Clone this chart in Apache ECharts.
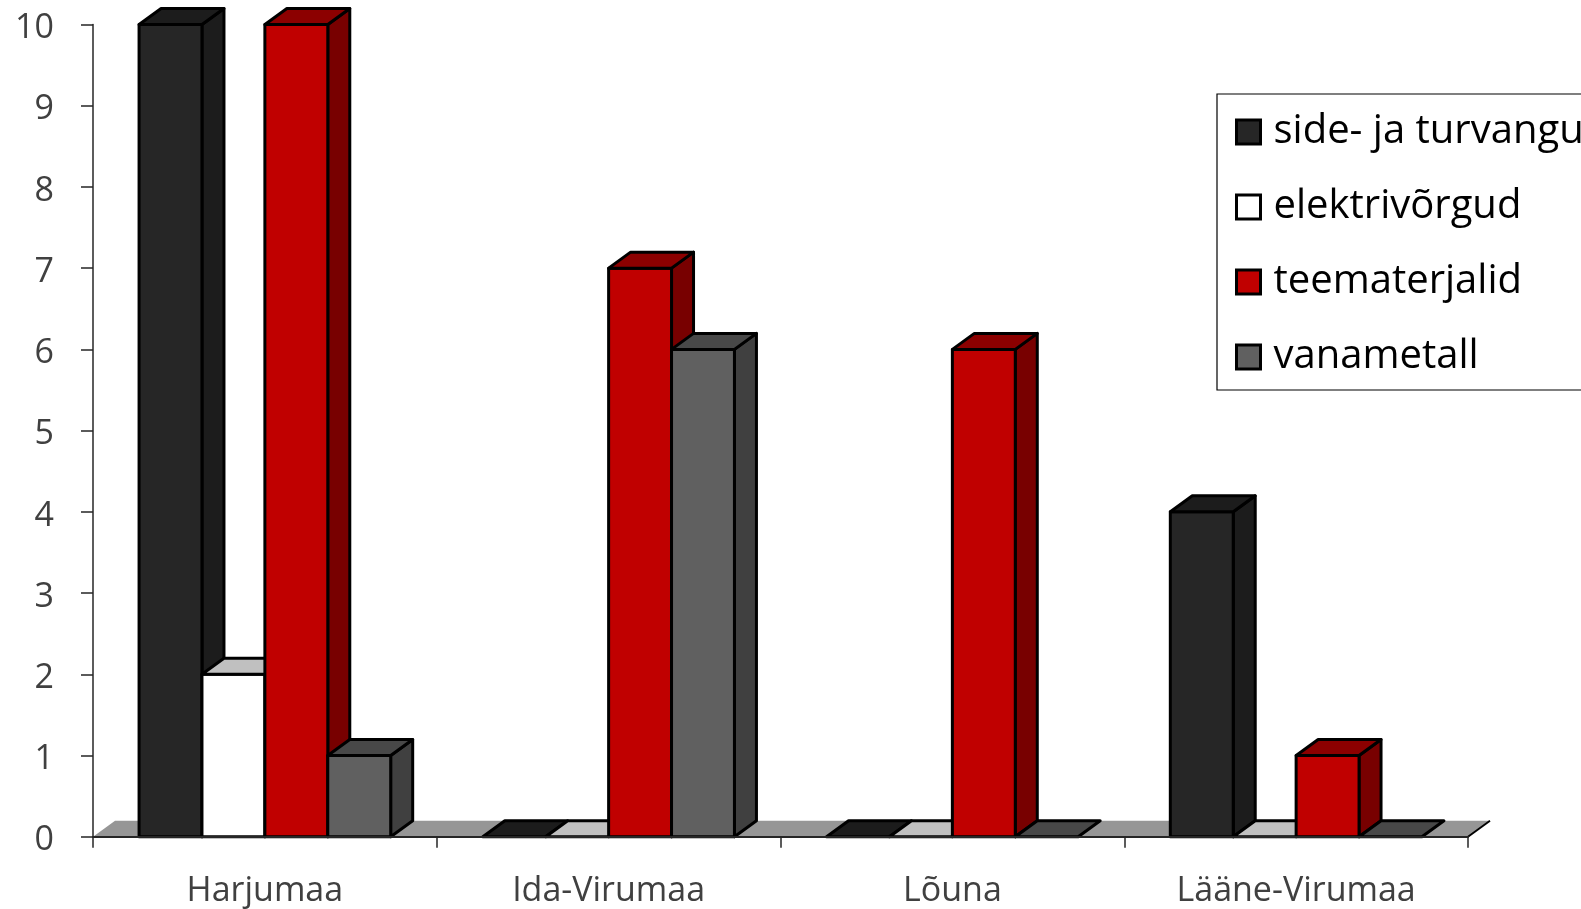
<!DOCTYPE html>
<html>
<head>
<meta charset="utf-8">
<script src="https://cdn.jsdelivr.net/npm/echarts@6/dist/echarts.min.js"></script>
<style>
  html, body { margin: 0; padding: 0; background: #fff; }
  #chart { width: 1581px; height: 909px; }
</style>
</head>
<body>
<div id="chart"></div>
<script>
const categories = ['Harjumaa', 'Ida-Virumaa', 'Lõuna', 'Lääne-Virumaa'];
const seriesNames = ['side- ja turvanguseadmed', 'elektrivõrgud', 'teematerjalid', 'vanametall'];
const sideTurvangu = [10, 0, 0, 4];
const elektrivorgud = [2, 0, 0, 0];
const teematerjalid = [10, 7, 6, 1];
const vanametall = [1, 6, 0, 0];
const yMin = 0, yMax = 10, yStep = 1;

// front / top / side face colours per series
const faces = [
    {front: '#262626', top: '#1c1c1c', side: '#1c1c1c'},
    {front: '#ffffff', top: '#c0c0c0', side: '#c0c0c0'},
    {front: '#c00000', top: '#8c0000', side: '#780000'},
    {front: '#606060', top: '#484848', side: '#404040'}
];

const DX = 22, DY = 16;     // depth offset of the fake 3d
const GROUP = 0.732;        // share of a category used by the bars

function bar3d(k) {
    return function (params, api) {
        const i = api.value(0), v = api.value(1);
        const base = api.coord([i, 0]);
        const top = api.coord([i, v]);
        const band = api.size([1, 0])[0];
        const w = band * GROUP / 4;
        const x0 = base[0] - band * GROUP / 2 + k * w;
        const x1 = x0 + w;
        const yb = base[1], yt = top[1];
        const c = faces[k];
        const st = {stroke: '#000', lineWidth: 3, lineJoin: 'round'};
        const children = [];
        if (v > 0) {
            children.push({type: 'polygon', shape: {points: [[x1, yt], [x1 + DX, yt - DY], [x1 + DX, yb - DY], [x1, yb]]},
                style: Object.assign({}, st, {fill: c.side})});
            children.push({type: 'rect', shape: {x: x0, y: yt, width: w, height: yb - yt},
                style: Object.assign({}, st, {fill: c.front})});
        }
        children.push({type: 'polygon', shape: {points: [[x0, yt], [x0 + DX, yt - DY], [x1 + DX, yt - DY], [x1, yt]]},
            style: Object.assign({}, st, {fill: c.top})});
        return {type: 'group', children: children};
    };
}

const allValues = [sideTurvangu, elektrivorgud, teematerjalid, vanametall];

const series = [{
    type: 'custom',
    name: 'floor',
    silent: true,
    z: 1,
    data: [[0, 0]],
    renderItem: function (params, api) {
        const cs = params.coordSys;
        const L = cs.x, R = cs.x + cs.width, y = cs.y + cs.height;
        return {type: 'group', children: [
            {type: 'polygon', shape: {points: [[L, y], [L + DX, y - DY], [R + DX, y - DY], [R, y]]}, style: {fill: '#969696'}},
            {type: 'line', shape: {x1: R, y1: y, x2: R + DX, y2: y - DY}, style: {stroke: '#000', lineWidth: 2}}
        ]};
    }
}];

allValues.forEach(function (vals, k) {
    series.push({
        type: 'custom',
        name: seriesNames[k],
        z: 2,
        itemStyle: {color: faces[k].front, borderColor: '#000', borderWidth: 3},
        data: vals.map(function (v, i) { return [i, v]; }),
        renderItem: bar3d(k)
    });
});

const chart = echarts.init(document.getElementById('chart'));
chart.setOption({
    animation: false,
    backgroundColor: '#fff',
    grid: {left: 93, right: 113, top: 24.5, bottom: 72.3},
    xAxis: {
        type: 'category',
        data: categories,
        z: 5,
        axisLine: {show: true, lineStyle: {color: '#262626', width: 2}},
        axisTick: {show: true, length: 11, lineStyle: {color: '#262626', width: 1.5}},
        axisLabel: {fontFamily: 'Open Sans', fontSize: 34, color: '#404040', margin: 38},
        splitLine: {show: false}
    },
    yAxis: {
        type: 'value',
        min: yMin, max: yMax, interval: yStep,
        axisLine: {show: true, lineStyle: {color: '#262626', width: 1.5}},
        axisTick: {show: true, length: 12, lineStyle: {color: '#262626', width: 1.5}},
        axisLabel: {
            margin: 39,
            formatter: '{n|{value}}',
            rich: {n: {fontFamily: 'Open Sans', fontSize: 34, color: '#404040', padding: [8, 0, 0, 0]}}
        },
        splitLine: {show: false}
    },
    legend: {
        orient: 'vertical',
        left: 1217, top: 94,
        selectedMode: false,
        data: seriesNames.map(function (n, k) {
            return {name: n, icon: 'rect',
                itemStyle: {color: faces[k].front, borderColor: '#000', borderWidth: 3}};
        }),
        itemWidth: 24, itemHeight: 24, itemGap: 35,
        padding: [18, 30, 13, 18],
        borderColor: '#000', borderWidth: 1.2,
        backgroundColor: '#fff',
        textStyle: {fontFamily: 'Open Sans', fontSize: 40, color: '#000', padding: [0, 0, 0, 8]}
    },
    series: series
});
</script>
</body>
</html>
